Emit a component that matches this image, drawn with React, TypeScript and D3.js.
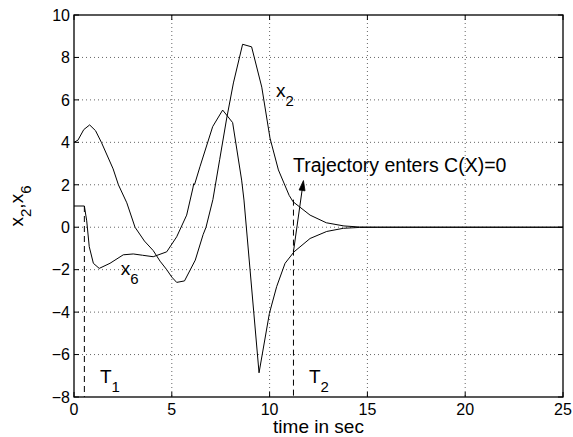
import React from "react";
import * as d3 from "d3";

const xTicks = [0, 5, 10, 15, 20, 25];
const yTicks = [-8, -6, -4, -2, 0, 2, 4, 6, 8, 10];

const x2Time = [0, 0.2, 0.5, 0.8, 1.1, 1.4, 2.0, 2.27, 2.7, 3.12, 3.6, 4.05, 4.4, 4.74, 5.0, 5.25, 5.65, 6.2, 6.6, 6.75, 7.1, 7.45, 7.8, 8.15, 8.62, 9.08, 9.6, 10.02, 10.45, 11.0, 11.2, 12.07, 12.9, 13.8, 14.6, 15.5, 25];
const x2Values = [4.0, 4.1, 4.6, 4.82, 4.55, 4.0, 2.75, 2.0, 1.15, 0.0, -0.65, -1.1, -1.6, -2.0, -2.35, -2.6, -2.53, -1.55, -0.35, 0.0, 1.3, 3.2, 5.1, 6.8, 8.62, 8.5, 6.6, 4.2, 2.7, 1.5, 1.2, 0.57, 0.21, 0.06, 0.01, 0, 0];

const x6Time = [0, 0.53, 0.65, 0.78, 0.99, 1.29, 1.84, 2.52, 3.03, 3.5, 4.05, 4.74, 5.25, 5.76, 6.08, 6.12, 6.16, 6.44, 7.09, 7.6, 8.11, 8.57, 8.69, 9.46, 9.99, 10.36, 10.79, 11.25, 12.07, 12.92, 13.77, 14.6, 15.5, 25];
const x6Values = [1.0, 1.0, 0.3, -0.92, -1.7, -1.94, -1.7, -1.3, -1.26, -1.32, -1.39, -1.16, -0.45, 0.57, 1.85, 2.05, 2.0, 2.85, 4.74, 5.52, 4.93, 2.22, 1.28, -6.86, -4.06, -2.8, -1.7, -1.16, -0.53, -0.2, -0.05, -0.01, 0, 0];

const T1 = 0.53;
const T2 = 11.22;
const T1Top = 1.0;
const T2Top = 1.3;
const arrowFrom = [11.22, -1.15];
const arrowTo = [11.73, 2.2];
const annotation = "Trajectory enters C(X)=0";

const W = 573;
const H = 437;
const left = 74;
const right = 563;
const top = 15;
const bottom = 397;

export default function App() {
  const x = d3.scaleLinear().domain([0, 25]).range([left, right]);
  const y = d3.scaleLinear().domain([-8, 10]).range([bottom, top]);
  const line = d3
    .line<[number, number]>()
    .x((d) => x(d[0]))
    .y((d) => y(d[1]));
  const d2 = line(x2Time.map((t, i) => [t, x2Values[i]] as [number, number])) || "";
  const d6 = line(x6Time.map((t, i) => [t, x6Values[i]] as [number, number])) || "";

  const font = "'Liberation Sans', Arial, Helvetica, sans-serif";
  const gridColor = "#666";

  const ax0 = x(arrowFrom[0]);
  const ay0 = y(arrowFrom[1]);
  const ax1 = x(arrowTo[0]);
  const ay1 = y(arrowTo[1]);
  const ang = Math.atan2(ay1 - ay0, ax1 - ax0);
  const hl = 10;
  const hw = 3;
  const bx = ax1 - hl * Math.cos(ang);
  const by = ay1 - hl * Math.sin(ang);
  const px = -Math.sin(ang);
  const py = Math.cos(ang);
  const head = `M${ax1},${ay1}L${bx + hw * px},${by + hw * py}L${bx - hw * px},${by - hw * py}Z`;

  return (
    <svg
      width={W}
      height={H}
      style={{ position: "absolute", left: 0, top: 0, background: "#fff" }}
      fontFamily={font}
    >
      <rect x={0} y={0} width={W} height={H} fill="#fff" />
      {xTicks.slice(1, -1).map((t) => (
        <line key={"gx" + t} x1={x(t)} x2={x(t)} y1={top} y2={bottom} stroke={gridColor} strokeWidth={1} strokeDasharray="1 3" />
      ))}
      {yTicks.slice(1, -1).map((t) => (
        <line key={"gy" + t} x1={left} x2={right} y1={y(t)} y2={y(t)} stroke={gridColor} strokeWidth={1} strokeDasharray="1 3" />
      ))}
      {xTicks.map((t) => (
        <g key={"tx" + t}>
          <line x1={x(t)} x2={x(t)} y1={bottom} y2={bottom - 5} stroke="#000" />
          <line x1={x(t)} x2={x(t)} y1={top} y2={top + 5} stroke="#000" />
          <text x={x(t)} y={415} fontSize={16} textAnchor="middle">{t}</text>
        </g>
      ))}
      {yTicks.map((t) => (
        <g key={"ty" + t}>
          <line x1={left} x2={left + 5} y1={y(t)} y2={y(t)} stroke="#000" />
          <line x1={right} x2={right - 5} y1={y(t)} y2={y(t)} stroke="#000" />
          <text x={70} y={y(t)} dy="0.36em" fontSize={16} textAnchor="end">
            {t < 0 ? "\u2212" + Math.abs(t) : String(t)}
          </text>
        </g>
      ))}
      <path d={d2} fill="none" stroke="#000" strokeWidth={1} />
      <path d={d6} fill="none" stroke="#000" strokeWidth={1} />
      <line x1={x(T1)} x2={x(T1)} y1={y(T1Top)} y2={bottom} stroke="#000" strokeWidth={1} strokeDasharray="6 4" />
      <line x1={x(T2)} x2={x(T2)} y1={y(T2Top)} y2={bottom} stroke="#000" strokeWidth={1} strokeDasharray="6 4" />
      <line x1={ax0} y1={ay0} x2={bx} y2={by} stroke="#000" strokeWidth={1} />
      <path d={head} fill="#000" stroke="#000" strokeWidth={0.8} />
      <rect x={left} y={top} width={right - left} height={bottom - top} fill="none" stroke="#000" strokeWidth={1.3} />
      <text x={x(11.2)} y={y(2.62)} fontSize={19.5}>{annotation}</text>
      <text x={x(10.33)} y={y(6.14)} fontSize={19}>
        x<tspan fontSize={15} dy={9}>2</tspan>
      </text>
      <text x={x(2.39)} y={y(-2.26)} fontSize={19}>
        x<tspan fontSize={15} dy={9}>6</tspan>
      </text>
      <text x={x(1.33)} y={y(-7.34)} fontSize={19}>
        T<tspan fontSize={15} dy={9}>1</tspan>
      </text>
      <text x={x(12.01)} y={y(-7.34)} fontSize={19}>
        T<tspan fontSize={15} dy={9}>2</tspan>
      </text>
      <text x={(left + right) / 2} y={433} fontSize={19} textAnchor="middle">time in sec</text>
      <text transform={`translate(23,${(top + bottom) / 2}) rotate(-90)`} fontSize={19} textAnchor="middle">
        x<tspan fontSize={15} dy={8}>2</tspan>
        <tspan dy={-8}>,x</tspan>
        <tspan fontSize={15} dy={8}>6</tspan>
      </text>
    </svg>
  );
}
